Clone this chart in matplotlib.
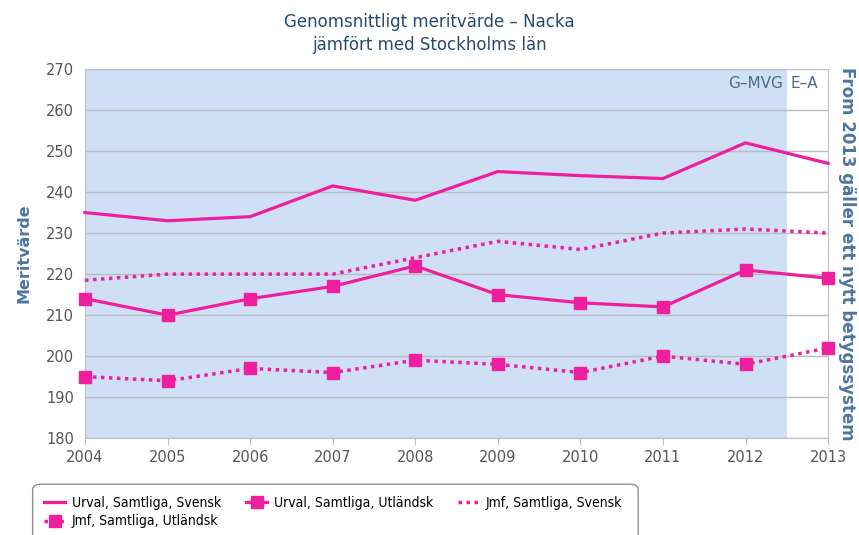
import matplotlib
matplotlib.use("Agg")
import matplotlib.pyplot as plt
from matplotlib import font_manager
from matplotlib.patches import FancyBboxPatch

years = [2004, 2005, 2006, 2007, 2008, 2009, 2010, 2011, 2012, 2013]
urval_svensk = [235, 233, 234, 241.5, 238, 245, 244, 243.3, 252, 247]
urval_utl = [214, 210, 214, 217, 222, 215, 213, 212, 221, 219]
jmf_svensk = [218.5, 220, 220, 220, 224, 228, 226, 230, 231, 230]
jmf_utl = [195, 194, 197, 196, 199, 198, 196, 200, 198, 202]

PINK = "#ee1f9c"
BAND = "#cfdff5"
TITLE = "#274b6d"
AXT = "#4d759e"

# the legend uses a narrow sans; pick one if it is installed
fonts = font_manager.fontManager.ttflist
if any(f.name == "Liberation Sans Narrow" for f in fonts):
    leg_prop = {"family": "Liberation Sans Narrow", "size": 11}
elif any(f.name == "DejaVu Sans" and f.stretch == "condensed" for f in fonts):
    leg_prop = {"family": "DejaVu Sans", "stretch": "condensed", "size": 10}
else:
    leg_prop = {"family": "Liberation Sans", "size": 9.5}

fig = plt.figure(figsize=(8.59, 5.35), dpi=100)
ax = fig.add_axes([0.099, 0.181, 0.865, 0.690])

ax.axvspan(2004, 2012.5, color=BAND, zorder=0, lw=0)
ax.set_xlim(2004, 2013)
ax.set_ylim(180, 270)
ax.set_yticks(range(180, 271, 10))
ax.set_xticks(years)
ax.grid(axis="y", color="#b8bcc2", lw=1, zorder=1)
for s in ax.spines.values():
    s.set_color("#c0c0c0")
ax.tick_params(colors="#c0c0c0", labelcolor="#555555", labelsize=10.5, length=5)
ax.tick_params(axis="y", length=0, pad=8)

l1, = ax.plot(years, urval_svensk, color=PINK, lw=2.3, label="Urval, Samtliga, Svensk", zorder=3, clip_on=False)
l2, = ax.plot(years, urval_utl, color=PINK, lw=2.3, marker="s", ms=9, label="Urval, Samtliga, Utländsk", zorder=3, clip_on=False)
l3, = ax.plot(years, jmf_svensk, color=PINK, lw=2.5, ls=(0, (1, 1.3)), label="Jmf, Samtliga, Svensk", zorder=3, clip_on=False)
l4, = ax.plot(years, jmf_utl, color=PINK, lw=2.5, ls=(0, (1, 1.3)), marker="s", ms=9, label="Jmf, Samtliga, Utländsk", zorder=3, clip_on=False)

ax.text(2012.45, 266.5, "G\u2013MVG", ha="right", va="center", color="#4d6a8a", fontsize=11)
ax.text(2012.55, 266.5, "E\u2013A", ha="left", va="center", color="#4d6a8a", fontsize=11)

fig.text(0.5, 0.937, "Genomsnittligt meritvärde \u2013 Nacka\njämfört med Stockholms län",
         ha="center", va="center", color=TITLE, fontsize=12, linespacing=1.35)
ax.set_ylabel("Meritvärde", color=AXT, fontsize=11.5, fontweight="bold", labelpad=10)
fig.text(0.997, 0.525, "From 2013 gäller ett nytt betygssystem", rotation=-90,
         ha="right", va="center", color=AXT, fontsize=12, fontweight="bold")

# column-major fill: row 1 = l1, l2, l3; row 2 = l4
leg = fig.legend([l1, l4, l2, l3], [l.get_label() for l in (l1, l4, l2, l3)],
                 loc="upper left", bbox_to_anchor=(0.045, 0.084), ncol=3, frameon=False,
                 handlelength=1.5, handletextpad=0.5, columnspacing=1.8,
                 labelspacing=0.35, borderaxespad=0, prop=leg_prop)
for h in leg.legend_handles:
    h.set_markersize(8)

# rounded box round the legend, sized to its content
fig.canvas.draw()
bb = leg.get_window_extent().transformed(fig.transFigure.inverted())
x0 = 0.038
box = FancyBboxPatch((x0, -0.05), max(0.521, bb.x1 + 0.012 - x0), 0.145,
                     boxstyle="round,pad=0,rounding_size=0.01",
                     transform=fig.transFigure, fc="white", ec="#909090", lw=1,
                     figure=fig, zorder=-1)
fig.patches.append(box)

fig.savefig("out.png", dpi=100)
